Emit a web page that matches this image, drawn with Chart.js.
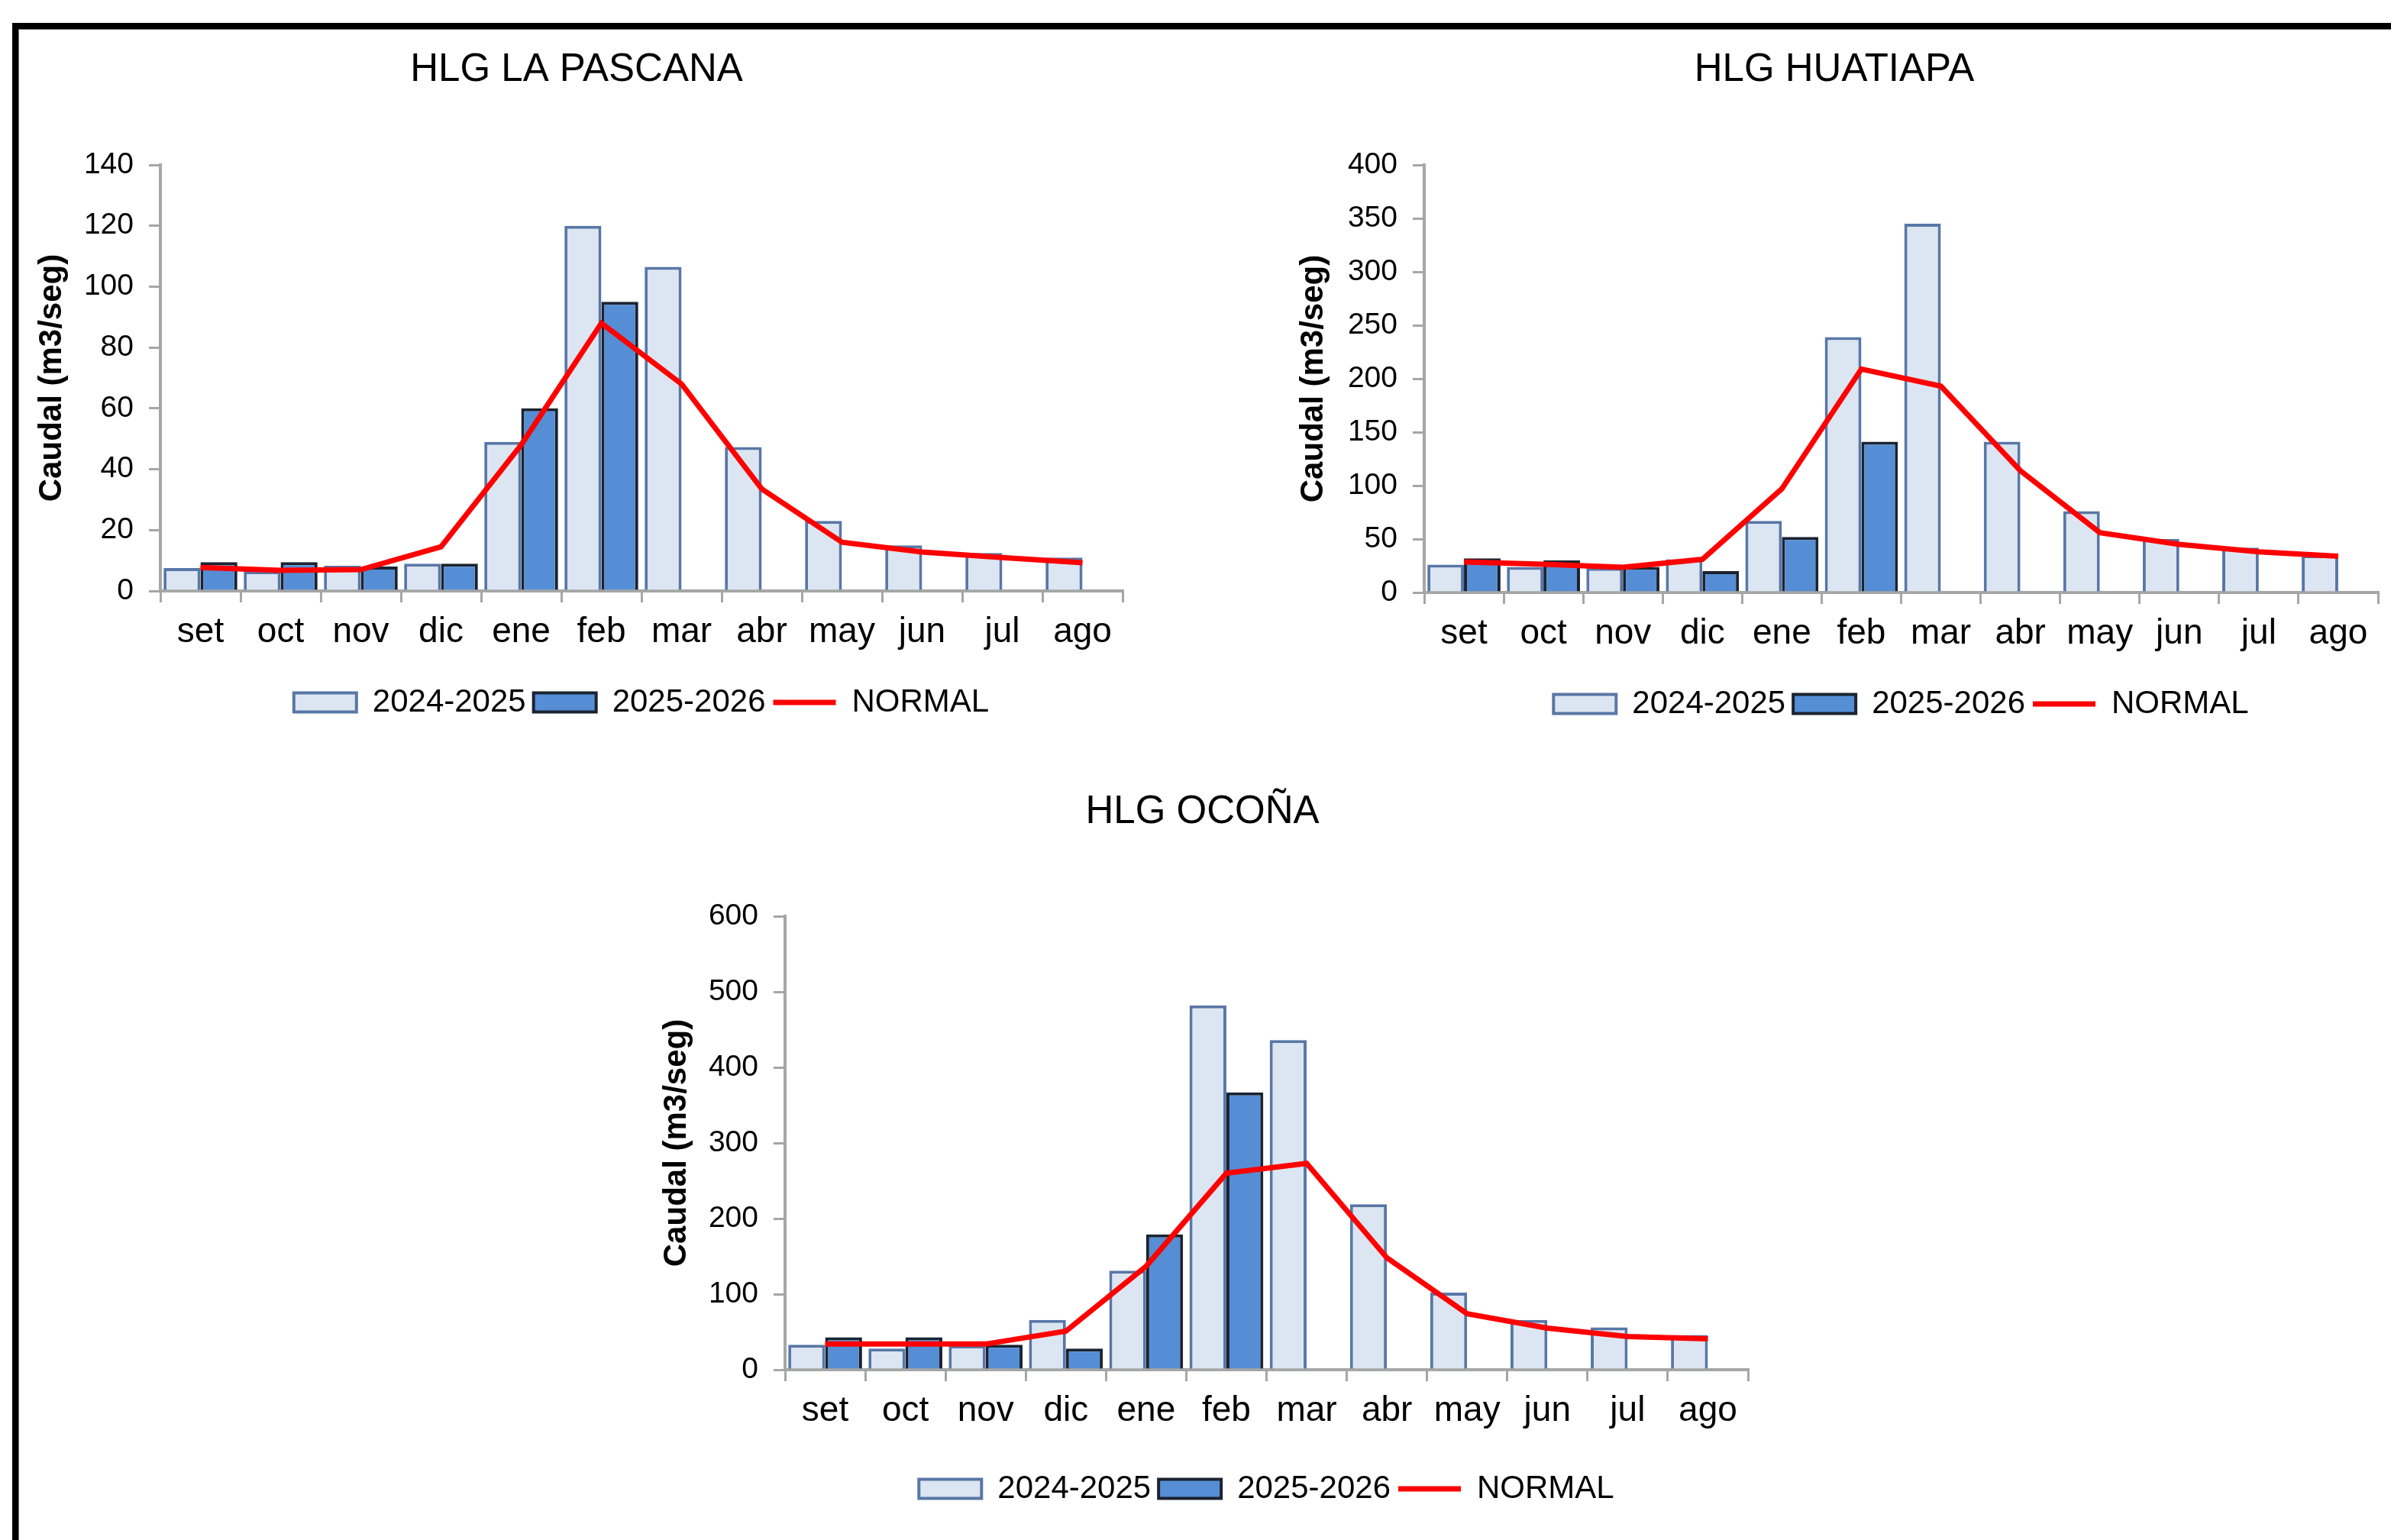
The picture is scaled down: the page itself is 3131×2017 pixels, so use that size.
<!DOCTYPE html>
<html>
<head>
<meta charset="utf-8">
<script src="https://cdn.jsdelivr.net/npm/chart.js@4.4.0/dist/chart.umd.min.js"></script>
<style>
  html, body { margin: 0; padding: 0; background: #fff; }
  body { width: 3131px; height: 2017px; position: relative; overflow: hidden; }
  .frame {
    position: absolute; left: 16px; top: 30px; right: -20px; bottom: -20px;
    border-top: 8px solid #000; border-left: 8px solid #000;
    box-shadow: inset 1px 1px 0 #777;
  }
  canvas { position: absolute; }
</style>
</head>
<body>
<div class="frame"></div>
<canvas id="pascana"></canvas>
<canvas id="huatiapa"></canvas>
<canvas id="ocona"></canvas>
<script>
// meses del año hidrológico
const months = ["set", "oct", "nov", "dic", "ene", "feb", "mar", "abr", "may", "jun", "jul", "ago"];
const seriesNames = ["2024-2025", "2025-2026", "NORMAL"];

// HLG La Pascana (m3/seg)
const pascana2425 = [7.5, 6.5, 8.3, 9, 49, 120, 106.5, 47.3, 23, 15, 12.5, 11];
const pascana2526 = [9.5, 9.5, 8, 9, 60, 95, null, null, null, null, null, null];
const pascanaNormal = [7.7, 6.8, 7, 14.5, 48, 88, 68, 33.5, 16, 12.8, 11, 9.3];
const pascanaTicks = { max: 140, step: 20 };

// HLG Huatiapa
const huatiapa2425 = [26, 24, 23, 31, 67, 239, 345, 141, 76, 50, 42, 35];
const huatiapa2526 = [32, 30, 24, 20, 52, 141, null, null, null, null, null, null];
const huatiapaNormal = [28.5, 26.5, 23.5, 31, 97, 209, 193, 114, 56, 45, 38, 34];
const huatiapaTicks = { max: 400, step: 50 };

// HLG Ocoña
const ocona2425 = [33, 28, 32, 66, 131, 482, 436, 219, 102, 66, 56, 46];
const ocona2526 = [43, 43, 33, 28, 179, 367, null, null, null, null, null, null];
const oconaNormal = [34, 34, 34, 51, 137, 260, 273, 148, 74, 55, 44, 41];
const oconaTicks = { max: 600, step: 100 };

Chart.defaults.font.family = "'Liberation Sans', Arial, sans-serif";
Chart.defaults.color = "#000";
Chart.defaults.animation = false;

const axisGray = "#A6A6A6";

function makeChart(id, box, title, ticks, light, dark, normal) {
  const cv = document.getElementById(id);
  cv.width = box.w; cv.height = box.h;
  cv.style.left = box.x + "px"; cv.style.top = box.y + "px";

  return new Chart(cv, {
    type: "bar",
    data: {
      labels: months,
      datasets: [
        {
          label: seriesNames[0], data: light, order: 1,
          backgroundColor: "#DCE6F2", borderColor: "#5877A6", borderWidth: 4
        },
        {
          label: seriesNames[1], data: dark, order: 2,
          backgroundColor: "#558ED5", borderColor: "#1B2330", borderWidth: 4
        },
        {
          type: "line", label: seriesNames[2], data: normal, order: 0,
          borderColor: "#FF0000", backgroundColor: "#FF0000", borderWidth: 7,
          pointRadius: 0, tension: 0
        }
      ]
    },
    options: {
      responsive: false,
      categoryPercentage: 0.92,
      barPercentage: 1.0,
      layout: { padding: { left: 0, right: box.padR, top: 0, bottom: 0 } },
      plugins: {
        tooltip: { enabled: false },
        title: {
          display: true, text: title, color: "#000",
          font: { size: 51, weight: "normal" },
          padding: { top: box.titleTop, bottom: box.titleBottom }
        },
        legend: {
          position: "bottom", fullSize: false,
          labels: {
            font: { size: 42 }, color: "#000", padding: 10,
            usePointStyle: true, pointStyleWidth: 82, boxHeight: 25,
            sort: (a, b) => a.datasetIndex - b.datasetIndex,
            generateLabels: (chart) => {
              const items = Chart.defaults.plugins.legend.labels.generateLabels(chart);
              items.forEach((it) => {
                const ds = chart.data.datasets[it.datasetIndex];
                it.pointStyle = ds.type === "line" ? "line" : "rect";
                it.lineWidth = ds.borderWidth;
                it.strokeStyle = ds.borderColor;
                it.fillStyle = ds.backgroundColor;
              });
              return items;
            }
          }
        }
      },
      scales: {
        x: {
          z: 1,
          grid: { display: true, drawOnChartArea: false, offset: true, tickLength: 15, color: axisGray, lineWidth: 3 },
          border: { display: true, color: axisGray, width: 4 },
          ticks: { font: { size: 46 }, padding: 12, maxRotation: 0 },
          afterFit: (s) => { s.height = box.xH; }
        },
        y: {
          z: 1,
          min: 0, max: ticks.max,
          grid: { drawOnChartArea: false, tickLength: 15, color: axisGray, lineWidth: 3 },
          border: { display: true, color: axisGray, width: 4 },
          ticks: { stepSize: ticks.step, font: { size: 39 }, padding: 20 },
          title: {
            display: true, text: "Caudal (m3/seg)", color: "#000",
            font: { size: 42, weight: "bold" },
            padding: { top: box.yTitlePad, bottom: 0 }
          },
          afterFit: (s) => { s.width = box.yW; }
        }
      }
    }
  });
}

makeChart("pascana",
  { x: 40, y: 40, w: 1450, h: 911, padR: 20, yW: 170, xH: 115, titleTop: 21.4, titleBottom: 93.4, yTitlePad: 3 },
  "HLG LA PASCANA", pascanaTicks, pascana2425, pascana2526, pascanaNormal);

makeChart("huatiapa",
  { x: 1690, y: 40, w: 1434, h: 913, padR: 10, yW: 175, xH: 115, titleTop: 21.4, titleBottom: 93.4, yTitlePad: 5 },
  "HLG HUATIAPA", huatiapaTicks, huatiapa2425, huatiapa2526, huatiapaNormal);

makeChart("ocona",
  { x: 860, y: 1024, w: 1449, h: 957, padR: 20, yW: 168, xH: 125, titleTop: 9.4, titleBottom: 105.4, yTitlePad: 1 },
  "HLG OCOÑA", oconaTicks, ocona2425, ocona2526, oconaNormal);
</script>
</body>
</html>
